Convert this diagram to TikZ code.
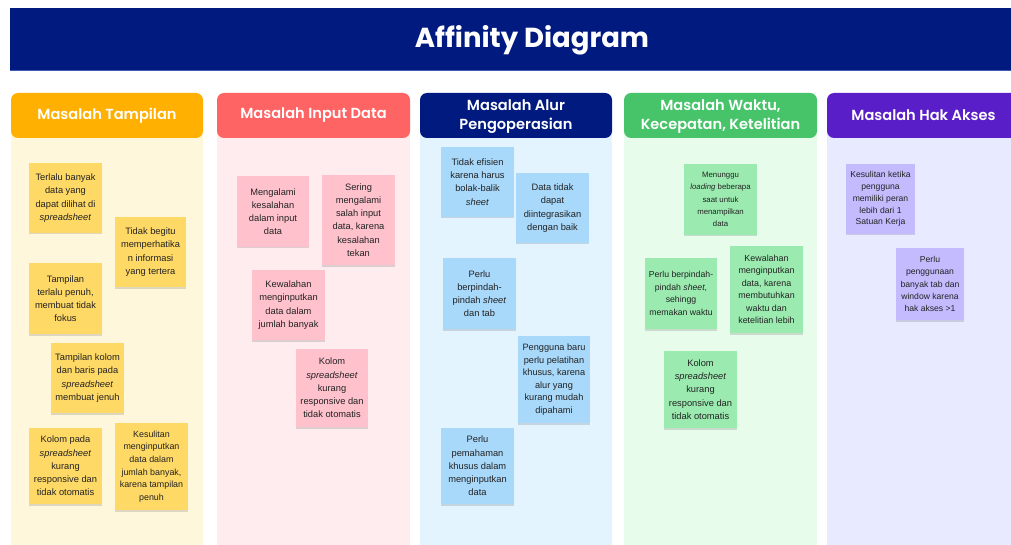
\documentclass[tikz,border=0pt]{standalone}
\usepackage{fontspec}
\setmainfont{Liberation Sans}
\IfFontExistsTF{Poppins SemiBold}{\newfontfamily\hdfont{Poppins SemiBold}\newcommand\hdsize{\fontsize{14.6}{18.5}\selectfont}}{%
  \IfFontExistsTF{Poppins Medium}{\newfontfamily\hdfont{Poppins Medium}\newcommand\hdsize{\fontsize{14.8}{18.5}\selectfont}}{%
    \newfontfamily\hdfont{Poppins}[UprightFont=*-Bold]\newcommand\hdsize{\fontsize{14.2}{18.5}\selectfont}}}
\newfontfamily\ttlfont{Poppins}
\usetikzlibrary{shadows}
\definecolor{navy}{HTML}{001A80}
\definecolor{navyline}{HTML}{3D5BB5}
\definecolor{hOrange}{HTML}{FFB000}
\definecolor{bOrange}{HTML}{FFF7DC}
\definecolor{nYellow}{HTML}{FFD966}
\definecolor{hRed}{HTML}{FF6464}
\definecolor{bRed}{HTML}{FFECEE}
\definecolor{nPink}{HTML}{FFC2CC}
\definecolor{bBlue}{HTML}{E3F4FF}
\definecolor{nBlue}{HTML}{A8D8FA}
\definecolor{hGreen}{HTML}{47C46A}
\definecolor{bGreen}{HTML}{E8FCEB}
\definecolor{nGreen}{HTML}{9BEBB0}
\definecolor{hPurple}{HTML}{5A1EC8}
\definecolor{bPurple}{HTML}{E8EAFF}
\definecolor{nPurple}{HTML}{C4BBFF}
\definecolor{notetext}{HTML}{222222}
\begin{document}
\begin{tikzpicture}[x=1pt,y=-1pt,
  header/.style={rectangle, rounded corners=7pt, inner sep=0pt, minimum height=45pt, text=white, align=center, font=\hdfont\hdsize},
  note/.style={rectangle, inner sep=0pt, align=center, text=notetext, font=\fontsize{9.3}{13.2}\selectfont,
     drop shadow={shadow xshift=0pt, shadow yshift=-1.5pt, opacity=0.13, fill=black}},
  ny/.style={note, fill=nYellow},
  np/.style={note, fill=nPink},
  nb/.style={note, fill=nBlue},
  ng/.style={note, fill=nGreen},
  nv/.style={note, fill=nPurple},
]
\useasboundingbox (0,0) rectangle (1011,545);
\clip (0,0) rectangle (1011,545);
\fill[white] (0,0) rectangle (1011,545);
% title bar
\fill[navy] (10,8) rectangle (1060,71);
\draw[navyline, line width=1pt] (10,70.5) -- (1060,70.5);
\node[text=white, font=\ttlfont\bfseries\fontsize{27.5}{30}\selectfont] (title) at (532,40) {Affinity Diagram};
% column bodies
\fill[bOrange] (11,100) rectangle (203,545);
\fill[bRed] (217,100) rectangle (410,545);
\fill[bBlue] (420,100) rectangle (612,545);
\fill[bGreen] (624,100) rectangle (817,545);
\fill[bPurple] (827,100) rectangle (1020,545);
% headers
\node[header, fill=hOrange, minimum width=192pt] (h1) at (107,115.5) {Masalah Tampilan};
\node[header, fill=hRed, minimum width=193pt] (h2) at (313.5,115.5) {Masalah Input Data};
\node[header, fill=navy, minimum width=192pt] (h3) at (516,115.5) {\strut Masalah Alur\\Pengoperasian};
\node[header, fill=hGreen, minimum width=193pt] (h4) at (720.5,115.5) {\strut Masalah Waktu,\\Kecepatan, Ketelitian};
\node[header, fill=hPurple, minimum width=193pt] (h5) at (923.5,115.5) {Masalah Hak Akses};
% column 1
\node[ny, minimum width=73pt, minimum height=70pt] (n1) at (65.5,198) {Terlalu banyak\\data yang\\dapat dilihat di\\\textit{spreadsheet}};
\node[ny, minimum width=71pt, minimum height=70pt] (n2) at (150.5,252) {Tidak begitu\\memperhatika\\n informasi\\yang tertera};
\node[ny, minimum width=73pt, minimum height=71pt] (n3) at (65.5,298.5) {Tampilan\\terlalu penuh,\\membuat tidak\\fokus};
\node[ny, minimum width=73pt, minimum height=70pt] (n4) at (87.5,378) {Tampilan kolom\\dan baris pada\\\textit{spreadsheet}\\membuat jenuh};
\node[ny, minimum width=73pt, minimum height=76pt] (n5) at (65.5,466) {Kolom pada\\\textit{spreadsheet}\\kurang\\responsive dan\\tidak otomatis};
\node[ny, minimum width=73pt, minimum height=87pt, font=\fontsize{8.9}{12.7}\selectfont] (n6) at (151.5,466.5) {Kesulitan\\menginputkan\\data dalam\\jumlah banyak,\\karena tampilan\\penuh};
% column 2
\node[np, minimum width=72pt, minimum height=71pt] (p1) at (273,211.5) {Mengalami\\kesalahan\\dalam input\\data};
\node[np, minimum width=73pt, minimum height=90pt] (p2) at (358.5,220) {Sering\\mengalami\\salah input\\data, karena\\kesalahan\\tekan};
\node[np, minimum width=73pt, minimum height=70pt] (p3) at (288.5,305) {Kewalahan\\menginputkan\\data dalam\\jumlah banyak};
\node[np, minimum width=72pt, minimum height=78pt] (p4) at (332,388) {Kolom\\\textit{spreadsheet}\\kurang\\responsive dan\\tidak otomatis};
% column 3
\node[nb, minimum width=73pt, minimum height=70pt] (b1) at (477.5,182) {Tidak efisien\\karena harus\\bolak-balik\\\textit{sheet}};
\node[nb, minimum width=73pt, minimum height=70pt] (b2) at (552.5,208) {Data tidak\\dapat\\diintegrasikan\\dengan baik};
\node[nb, minimum width=73pt, minimum height=71pt] (b3) at (479.5,293.5) {Perlu\\berpindah-\\pindah \textit{sheet}\\dan tab};
\node[nb, minimum width=72pt, minimum height=87pt, font=\fontsize{9.2}{12.5}\selectfont] (b4) at (554,379.5) {Pengguna baru\\perlu pelatihan\\khusus, karena\\alur yang\\kurang mudah\\dipahami};
\node[nb, minimum width=73pt, minimum height=76pt] (b5) at (477.5,466) {Perlu\\pemahaman\\khusus dalam\\menginputkan\\data};
% column 4
\node[ng, minimum width=73pt, minimum height=71pt, font=\fontsize{7.8}{12.2}\selectfont] (g1) at (720.5,199.5) {Menunggu\\\textit{loading} beberapa\\saat untuk\\menampilkan\\data};
\node[ng, minimum width=72pt, minimum height=71pt, font=\fontsize{8.7}{12.5}\selectfont] (g2) at (681,293.5) {Perlu berpindah-\\pindah \textit{sheet},\\sehingg\\memakan waktu};
\node[ng, minimum width=73pt, minimum height=87pt, font=\fontsize{8.9}{12.5}\selectfont] (g3) at (766.5,289.5) {Kewalahan\\menginputkan\\data, karena\\membutuhkan\\waktu dan\\ketelitian lebih};
\node[ng, minimum width=73pt, minimum height=77pt] (g4) at (700.5,389.5) {Kolom\\\textit{spreadsheet}\\kurang\\responsive dan\\tidak otomatis};
% column 5
\node[nv, minimum width=69pt, minimum height=70pt, font=\fontsize{8.6}{11.8}\selectfont] (v1) at (880.5,199) {Kesulitan ketika\\pengguna\\memiliki peran\\lebih dari 1\\Satuan Kerja};
\node[nv, minimum width=68pt, minimum height=72pt, font=\fontsize{8.6}{12.1}\selectfont] (v2) at (930,284) {Perlu\\penggunaan\\banyak tab dan\\window karena\\hak akses >1};
\end{tikzpicture}
\end{document}
